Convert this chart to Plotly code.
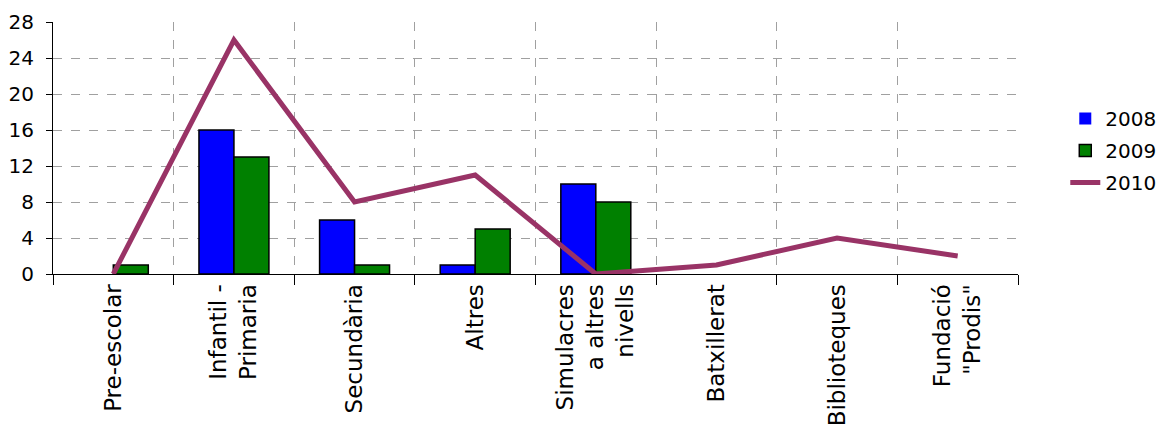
import plotly.graph_objects as go

# categories and values
categories = ["Pre-escolar", "Infantil -<br>Primaria", "Secundària", "Altres",
              "Simulacres<br>a altres<br>nivells", "Batxillerat", "Biblioteques",
              "Fundació<br>\"Prodis\""]
values_2008 = [0, 16, 6, 1, 10, 0, 0, 0]
values_2009 = [1, 13, 1, 5, 8, 0, 0, 0]
values_2010 = [0, 26, 8, 11, 0, 1, 4, 2]
y_ticks = [0, 4, 8, 12, 16, 20, 24, 28]

FONT = "DejaVu Sans"


def outline(vals):
    # no outline on empty bars
    return [1.5 if v else 0 for v in vals]


fig = go.Figure()
fig.add_trace(go.Bar(x=categories, y=values_2008, name="2008", legendgroup="a",
                     marker=dict(color="#0000FF",
                                 line=dict(color="black", width=outline(values_2008)))))
fig.add_trace(go.Bar(x=categories, y=values_2009, name="2009", legendgroup="b",
                     marker=dict(color="#008000",
                                 line=dict(color="black", width=outline(values_2009)))))
fig.add_trace(go.Scatter(x=categories, y=values_2010, name="2010", mode="lines",
                         legendgroup="c", line=dict(color="#993366", width=5)))

# page body has an 8px margin, so the figure is sized and offset for it
fig.update_layout(
    width=1158, height=417,
    margin=dict(l=45, r=148, t=14, b=151, autoexpand=False),
    paper_bgcolor="white", plot_bgcolor="white",
    font=dict(family=FONT, size=20, color="black"),
    barmode="group", bargap=0.42, bargroupgap=0,
    showlegend=True,
    legend=dict(x=1.049, y=0.49, xanchor="left", yanchor="middle",
                font=dict(size=20), itemwidth=30, traceorder="grouped",
                tracegroupgap=3),
    xaxis=dict(type="category", range=[-0.5, 7.5], tickson="boundaries",
               tickangle=-90, ticks="outside", ticklen=10, tickcolor="black",
               showline=True, linecolor="black", linewidth=1, automargin=False,
               showgrid=True, gridcolor="#A0A0A0", griddash="dash", gridwidth=1,
               tickfont=dict(size=23, family=FONT)),
    yaxis=dict(range=[0, 28], tickvals=y_ticks, ticks="outside", ticklen=6,
               tickcolor="black", showline=True, linecolor="black", linewidth=1,
               showgrid=True, gridcolor="#A0A0A0", griddash="dash", gridwidth=1,
               zeroline=False, automargin=False, ticklabelstandoff=8,
               tickfont=dict(size=20, family=FONT)),
)

fig.write_html("out.html")
